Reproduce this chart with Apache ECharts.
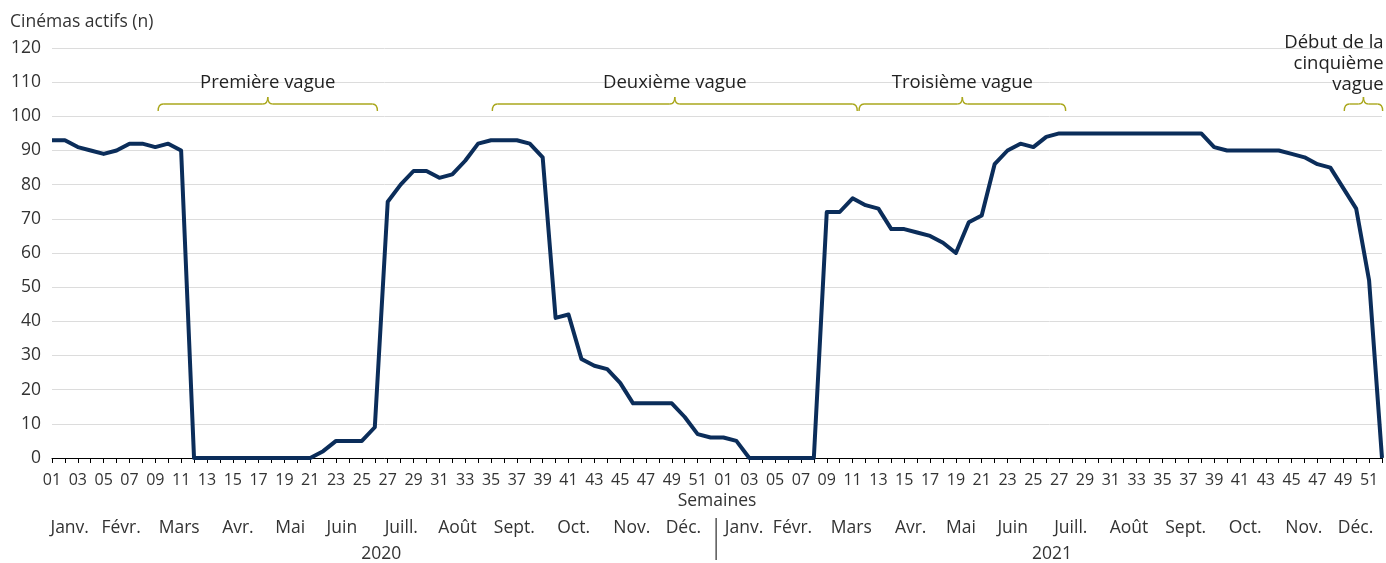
<!DOCTYPE html>
<html>
<head>
<meta charset="utf-8">
<script src="https://cdn.jsdelivr.net/npm/echarts@6/dist/echarts.min.js"></script>
<style>
  html, body { margin: 0; padding: 0; background: #fff; }
  #chart { width: 1386px; height: 563px; }
</style>
</head>
<body>
<div id="chart"></div>
<script>
// Cinémas actifs par semaine, 2020 (52 semaines) et 2021 (52 semaines)
const values2020 = [93, 93, 91, 90, 89, 90, 92, 92, 91, 92, 90, 0, 0, 0, 0, 0, 0, 0, 0, 0,
  0, 2, 5, 5, 5, 9, 75, 80, 84, 84, 82, 83, 87, 92, 93, 93, 93, 92, 88, 41,
  42, 29, 27, 26, 22, 16, 16, 16, 16, 12, 7, 6];
const values2021 = [6, 5, 0, 0, 0, 0, 0, 0, 72, 72, 76, 74, 73, 67, 67, 66, 65, 63, 60, 69,
  71, 86, 90, 92, 91, 94, 95, 95, 95, 95, 95, 95, 95, 95, 95, 95, 95, 95, 91, 90,
  90, 90, 90, 90, 89, 88, 86, 85, 79, 73, 52, 0];

const weekLabels2020 = values2020.map((_, i) => String(i + 1).padStart(2, "0"));
const weekLabels2021 = values2021.map((_, i) => String(i + 1).padStart(2, "0"));
const weeks = weekLabels2020.concat(weekLabels2021);
const values = values2020.concat(values2021);

// month labels, placed at a (fractional) week index
const monthNames = ["Janv.", "Févr.", "Mars", "Avr.", "Mai", "Juin", "Juill.", "Août", "Sept.", "Oct.", "Nov.", "Déc.",
  "Janv.", "Févr.", "Mars", "Avr.", "Mai", "Juin", "Juill.", "Août", "Sept.", "Oct.", "Nov.", "Déc."];
const monthPos = [1.37, 5.35, 9.85, 14.4, 18.45, 22.45, 27.05, 31.4, 35.8, 40.4, 44.9, 48.9,
  53.6, 57.35, 61.9, 66.5, 70.4, 74.4, 78.9, 83.4, 87.8, 92.4, 96.95, 100.95];
const years = ["2020", "2021"];
const yearPos = [25.5, 77.45];
const yearSplit = 51.43;

// vagues: label, start, end (week index)
const waveLabels = ["Première vague", "Deuxième vague", "Troisième vague", "Début de la\ncinquième\nvague"];
const waveStart = [8.22, 34.1, 62.5, 100.08];
const waveEnd = [25.2, 62.36, 78.5, 103.05];

const FONT = "'Open Sans', 'Noto Sans', sans-serif";
const TEXT = "#333333";
const BRACE = "#aaa71c";

const chart = echarts.init(document.getElementById("chart"));

chart.setOption({
  animation: false,
  grid: { left: 52, right: 4, top: 48, bottom: 105, containLabel: false },
  xAxis: [
    {
      type: "category",
      data: weeks,
      boundaryGap: false,
      axisLine: { lineStyle: { color: "#000", width: 1 } },
      axisTick: { interval: 0, length: 5, lineStyle: { color: "#000" } },
      axisLabel: { interval: 1, fontFamily: FONT, fontSize: 16, color: TEXT, margin: 14 },
      splitLine: { show: false },
    },
    { type: "value", min: 0, max: values.length - 1, show: false },
  ],
  yAxis: {
    type: "value",
    min: 0,
    max: 120,
    interval: 10,
    axisLine: { show: false },
    axisTick: { show: false },
    axisLabel: { fontFamily: FONT, fontSize: 17.5, color: TEXT, margin: 11 },
    splitLine: { lineStyle: { color: "#dcdcdc", width: 1 } },
  },
  series: [{
    type: "line",
    data: values,
    showSymbol: false,
    lineStyle: { color: "#0b2d5a", width: 4, join: "round" },
    z: 5,
  }],
});

function px(v) {
  return chart.convertToPixel({ xAxisIndex: 1 }, v);
}

// curly brace as line and quadratic-curve pieces
function braceParts(x0, x1) {
  const xc = (x0 + x1) / 2;
  const yb = 111, yl = 104, yp = 97, r = 5;
  const st = { stroke: BRACE, lineWidth: 1.4, fill: null };
  return [
    { type: "bezierCurve", shape: { x1: x0, y1: yb, cpx1: x0, cpy1: yl, x2: x0 + r, y2: yl }, style: st },
    { type: "line", shape: { x1: x0 + r, y1: yl, x2: xc - r, y2: yl }, style: st },
    { type: "bezierCurve", shape: { x1: xc - r, y1: yl, cpx1: xc, cpy1: yl, x2: xc, y2: yp }, style: st },
    { type: "bezierCurve", shape: { x1: xc, y1: yp, cpx1: xc, cpy1: yl, x2: xc + r, y2: yl }, style: st },
    { type: "line", shape: { x1: xc + r, y1: yl, x2: x1 - r, y2: yl }, style: st },
    { type: "bezierCurve", shape: { x1: x1 - r, y1: yl, cpx1: x1, cpy1: yl, x2: x1, y2: yb }, style: st },
  ];
}

const graphics = [];

graphics.push({
  type: "text", x: 10, y: 22,
  style: { text: "Cinémas actifs (n)", font: "17.5px " + FONT, fill: TEXT, verticalAlign: "middle" },
});

graphics.push({
  type: "text", x: px((values.length - 1) / 2), y: 501,
  style: { text: "Semaines", font: "17.5px " + FONT, fill: TEXT, align: "center", verticalAlign: "middle" },
});

monthNames.forEach((m, i) => {
  graphics.push({
    type: "text", x: px(monthPos[i]), y: 528,
    style: { text: m, font: "17.5px " + FONT, fill: TEXT, align: "center", verticalAlign: "middle" },
  });
});

years.forEach((y, i) => {
  graphics.push({
    type: "text", x: px(yearPos[i]), y: 554,
    style: { text: y, font: "17.5px " + FONT, fill: TEXT, align: "center", verticalAlign: "middle" },
  });
});

graphics.push({
  type: "line",
  shape: { x1: px(yearSplit), y1: 518, x2: px(yearSplit), y2: 560 },
  style: { stroke: "#000", lineWidth: 1 },
});

waveLabels.forEach((label, i) => {
  const x0 = px(waveStart[i]);
  const x1 = px(waveEnd[i]);
  braceParts(x0, x1).forEach((p) => graphics.push(p));
  const multi = label.indexOf("\n") >= 0;
  graphics.push({
    type: "text",
    x: multi ? x1 + 1 : (x0 + x1) / 2,
    y: multi ? 95 : 83,
    style: {
      text: label,
      font: "18.5px " + FONT,
      fill: "#222",
      align: multi ? "right" : "center",
      verticalAlign: multi ? "bottom" : "middle",
      lineHeight: 21,
    },
  });
});

chart.setOption({ graphic: graphics });
</script>
</body>
</html>
